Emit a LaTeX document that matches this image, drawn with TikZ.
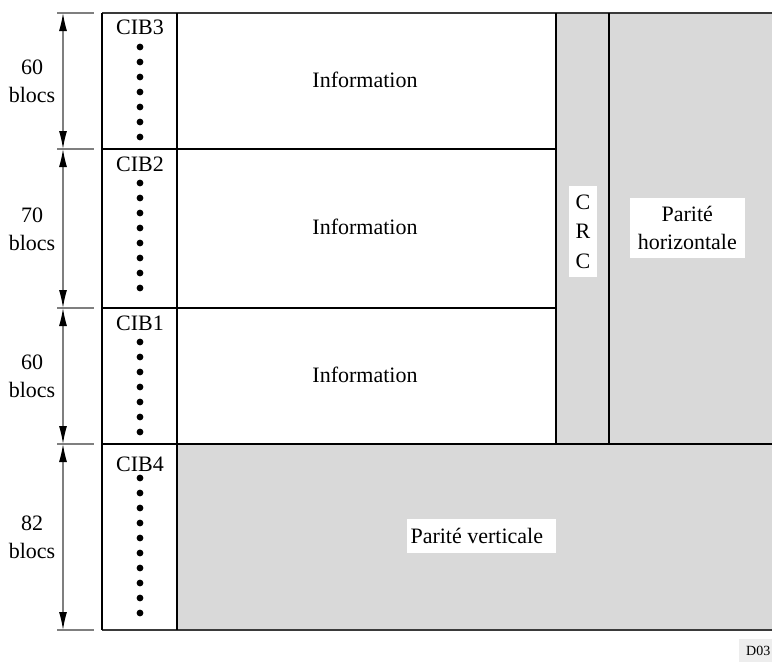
\documentclass[tikz,border=0pt]{standalone}
\usepackage{fontspec}
\setmainfont{Liberation Serif}
\usetikzlibrary{arrows.meta}
\definecolor{pgray}{HTML}{D9D9D9}
\definecolor{dimgray}{HTML}{7F7F7F}
\definecolor{edgegray}{HTML}{3A3A3A}
\definecolor{tagbg}{HTML}{EDEDED}
\begin{document}
\begin{tikzpicture}[x=1pt,y=-1pt,
  frame/.style={line width=2pt, black},
  outer/.style={line width=1.8pt, edgegray},
  tick/.style={line width=1.3pt, dimgray},
  dimarrow/.style={line width=1.3pt, dimgray,
    {Latex[length=18pt,width=8pt,color=black]}-{Latex[length=18pt,width=8pt,color=black]}},
  lbl/.style={font=\fontsize{22}{28}\selectfont, align=center, inner sep=0pt},
  wbox/.style={fill=white, inner sep=0pt, font=\fontsize{22}{28}\selectfont, align=center},
  blockdot/.style={fill=black}
]
\useasboundingbox (0,0) rectangle (772,662);

% grey areas
\fill[pgray] (556,13) rectangle (772,444);
\fill[pgray] (177,444) rectangle (772,630);

% frame lines
\draw[outer] (102,13) -- (772,13);
\draw[outer] (102,630) -- (772,630);
\draw[frame] (102,13) -- (102,630);
\draw[frame] (177,13) -- (177,630);
\draw[frame] (102,149) -- (556,149);
\draw[frame] (102,308) -- (556,308);
\draw[frame] (102,444) -- (772,444);
\draw[frame] (556,13) -- (556,444);
\draw[frame] (609,13) -- (609,444);

% dimension ticks and coordinates
\foreach \yy/\nm in {13/t0,149/t1,308/t2,444/t3,630/t4}{
  \coordinate (\nm) at (63,\yy);
  \draw[tick] (57,\yy) -- (94,\yy);
}
\draw[dimarrow] (t0) -- (t1);
\draw[dimarrow] (t1) -- (t2);
\draw[dimarrow] (t2) -- (t3);
\draw[dimarrow] (t3) -- (t4);

% dimension labels
\node[lbl] (d1) at (32,81.5) {60\\blocs};
\node[lbl] (d2) at (32,229) {70\\blocs};
\node[lbl] (d3) at (32,376.5) {60\\blocs};
\node[lbl] (d4) at (32,537.5) {82\\blocs};

% CIB labels
\node[lbl, anchor=base] (c3) at (140,34.3) {CIB3};
\node[lbl, anchor=base] (c2) at (140,171.7) {CIB2};
\node[lbl, anchor=base] (c1) at (140,330) {CIB1};
\node[lbl, anchor=base] (c4) at (140,471.7) {CIB4};

% dots
\foreach \k in {0,...,6}{\fill[blockdot] (140,47+15*\k) circle (3.4);}
\foreach \k in {0,...,7}{\fill[blockdot] (140,183+15*\k) circle (3.4);}
\foreach \k in {0,...,6}{\fill[blockdot] (140,342+15*\k) circle (3.4);}
\foreach \k in {0,...,9}{\fill[blockdot] (140,478+15*\k) circle (3.4);}

% information
\node[lbl, anchor=base] (i1) at (365,87.3) {Information};
\node[lbl, anchor=base] (i2) at (365,234.8) {Information};
\node[lbl, anchor=base] (i3) at (365,382.3) {Information};

% CRC and parity
\node[wbox, minimum width=28pt, minimum height=91pt,
      font=\fontsize{22}{29.5}\selectfont] (crc) at (583,231.7) {C\\R\\C};
\node[wbox, minimum width=114.7pt, minimum height=60pt] (ph) at (687.3,228.3) {Parité\\horizontale};
\node[wbox, minimum width=149.3pt, minimum height=34pt] (pv) at (481.3,536) {Parité verticale\hspace{9pt}};

% tag
\node[anchor=north west, fill=tagbg, minimum height=23pt, inner xsep=7pt, inner ysep=0pt,
      font=\fontsize{14}{16}\selectfont] (tag) at (739,639) {D03};
\end{tikzpicture}
\end{document}
